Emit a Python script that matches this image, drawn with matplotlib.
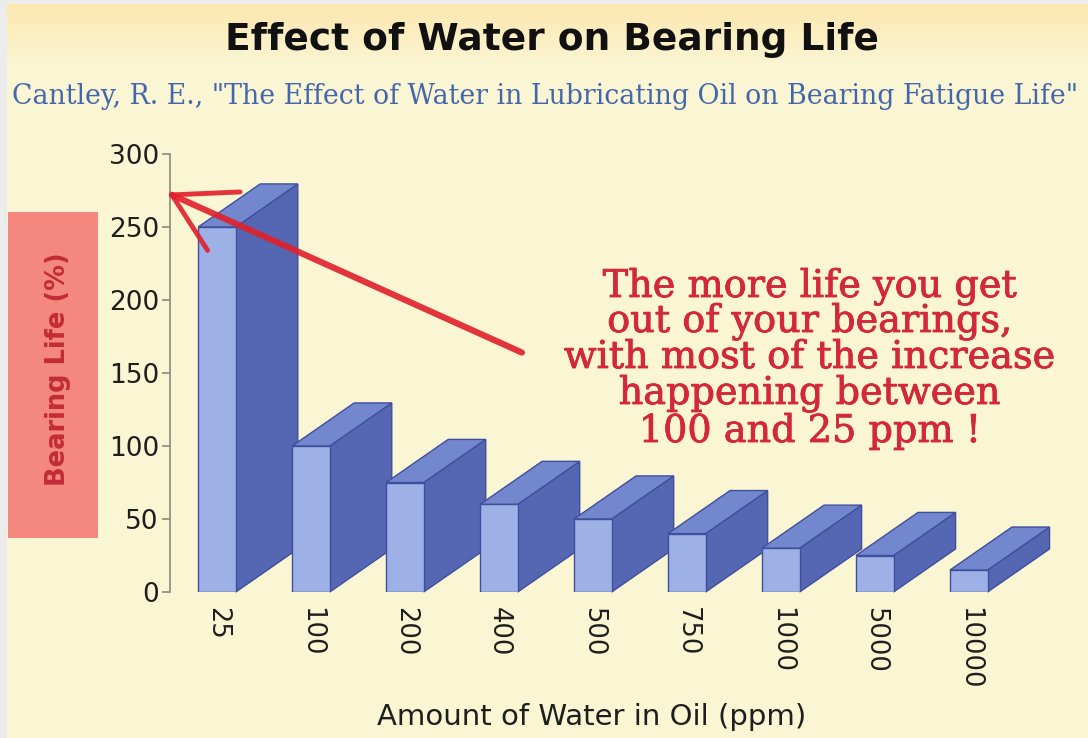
import matplotlib
matplotlib.use("Agg")
import matplotlib.pyplot as plt
from matplotlib.patches import Polygon, Rectangle
import matplotlib.patheffects as pe
import numpy as np

# Data
water_ppm = ["25", "100", "200", "400", "500", "750", "1000", "5000", "10000"]
bearing_life = [250, 100, 75, 60, 50, 40, 30, 25, 15]
y_ticks = [0, 50, 100, 150, 200, 250, 300]

title = "Effect of Water on Bearing Life"
subtitle = 'Cantley, R. E., "The Effect of Water in Lubricating Oil on Bearing Fatigue Life"'
note_lines = ["The more life you get", "out of your bearings,",
              "with most of the increase", "happening between",
              "100 and 25 ppm !"]

W, H = 1088, 738
fig = plt.figure(figsize=(W / 100, H / 100), dpi=100)
fig.patch.set_facecolor("#ececec")

# Panel background with warm band at top
bg = fig.add_axes([7 / W, 0, 1 - 7 / W, 1 - 4 / H], zorder=-10)
grad = np.linspace(0, 1, 200)[:, None]
c_top = np.array([0.992, 0.910, 0.690])
c_bot = np.array([0.984, 0.961, 0.827])
wgt = np.clip(grad / 0.08, 0, 1)
img = c_top * (1 - wgt[..., None]) + c_bot * wgt[..., None]
img = np.repeat(img, 2, axis=1)
bg.imshow(img, aspect="auto", extent=[0, 1, 0, 1], origin="upper")
bg.set_axis_off()

# Main axes
left, right = 170, 1058
bottom_px, top_px = 592, 154
ax = fig.add_axes([left / W, 1 - bottom_px / H, (right - left) / W,
                   (bottom_px - top_px) / H])
ax.set_facecolor("none")
ax.set_xlim(-0.5, 8.95)
ax.set_ylim(0, 300)

front_c = "#9db1e6"
side_c = "#5567b3"
top_c = "#7387cf"
edge_c = "#3f4f9c"

bw = 0.40
dx, dy = 0.66, 29.5
x = np.arange(len(water_ppm))
bars = ax.bar(x, bearing_life, width=bw, color=front_c, edgecolor=edge_c,
              linewidth=1.0)
for i, (rect, h) in enumerate(zip(bars, bearing_life)):
    x0 = rect.get_x()
    x1 = x0 + rect.get_width()
    z = 2 + 3 * i
    side = Polygon([(x1, 0), (x1 + dx, dy), (x1 + dx, h + dy), (x1, h)],
                   closed=True, facecolor=side_c, edgecolor=edge_c,
                   linewidth=1.0, zorder=z, clip_on=False)
    topf = Polygon([(x0, h), (x1, h), (x1 + dx, h + dy), (x0 + dx, h + dy)],
                   closed=True, facecolor=top_c, edgecolor=edge_c,
                   linewidth=1.0, zorder=z + 1, clip_on=False)
    ax.add_patch(side)
    ax.add_patch(topf)
    rect.set_zorder(z + 2)

# Axes styling
for s in ["top", "right", "bottom"]:
    ax.spines[s].set_visible(False)
ax.spines["left"].set_color("#8a8a80")
ax.spines["left"].set_linewidth(1.2)
ax.set_yticks(y_ticks)
ax.tick_params(axis="y", direction="out", length=6, width=1.2,
               color="#8a8a80", labelsize=19, pad=2, labelcolor="#1e1e1e")
ax.set_xticks(x)
ax.set_xticklabels(water_ppm, rotation=270, fontsize=18.5, color="#1e1e1e",
                   va="top", ha="center")
ax.tick_params(axis="x", length=0, pad=11)
for lab in ax.get_yticklabels() + ax.get_xticklabels():
    lab.set_family("DejaVu Sans")

fig.text(592 / W, 1 - 717 / H, "Amount of Water in Oil (ppm)", fontsize=21,
         color="#1e1e1e", ha="center", va="center", family="DejaVu Sans")

# Y-axis label on a salmon block
fig.patches.append(Rectangle((8 / W, 1 - 538 / H), 90 / W, 326 / H,
                             transform=fig.transFigure, facecolor="#f4877e",
                             edgecolor="none", zorder=1))
fig.text(58 / W, 1 - 369 / H, "Bearing Life (%)", rotation=90, fontsize=18.5,
         fontweight="bold", color="#c22c36", ha="center", va="center",
         family="DejaVu Sans")

# Titles
fig.text(552 / W, 1 - 40 / H, title, fontsize=27, fontweight="bold",
         color="#111111", ha="center", va="center", family="DejaVu Sans")
fig.text(12 / W, 1 - 97 / H, subtitle, fontsize=19.3, color="#4466ad",
         ha="left", va="center", family="DejaVu Serif")

# Red note
note_c = "#d2283a"
base_y = [297, 332, 368, 404, 442]
for line, by in zip(note_lines, base_y):
    fig.text(810 / W, 1 - by / H, line, fontsize=27.5, color=note_c,
             ha="center", va="baseline", family="DejaVu Serif",
             path_effects=[pe.withStroke(linewidth=0.6, foreground=note_c)])

# Red arrow pointing at the top of the first bar
arrow_c = "#e0202a"
tip = (-0.48, 272)
ax.plot([3.245, tip[0]], [164, tip[1]], color=arrow_c, lw=4.5,
        solid_capstyle="round", zorder=50, clip_on=False, alpha=0.9)
ax.plot([tip[0], 0.245], [tip[1], 274], color=arrow_c, lw=3.5,
        solid_capstyle="round", zorder=50, clip_on=False, alpha=0.9)
ax.plot([tip[0], -0.10], [tip[1], 234], color=arrow_c, lw=3.5,
        solid_capstyle="round", zorder=50, clip_on=False, alpha=0.9)

fig.savefig("out.png", dpi=100, facecolor=fig.get_facecolor())
